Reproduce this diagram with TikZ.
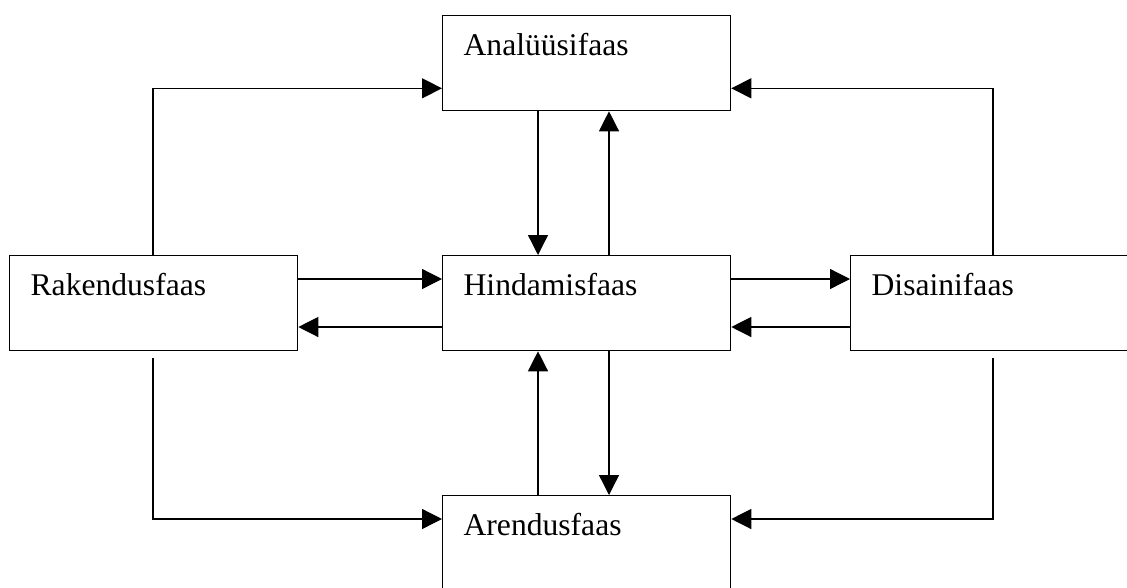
\documentclass[tikz,border=0pt]{standalone}
\usepackage{fontspec}
\setmainfont{Liberation Serif}
\usetikzlibrary{arrows.meta}
\begin{document}
\begin{tikzpicture}[x=1pt,y=-1pt,
  phase/.style={draw, line width=1.3pt, anchor=north west, align=left,
    inner xsep=21pt, inner ysep=0pt, text width=246pt,
    text height=40pt, text depth=55pt,
    font=\fontsize{31.6pt}{36pt}\selectfont},
  arr/.style={line width=1.3pt, -{Triangle[length=20pt,width=20pt]}}]
\useasboundingbox (0,0) rectangle (1127,587);
\clip (0,0) rectangle (1127,587);

% phase boxes
\node[phase] (ana)  at (442,15)  {Analüüsifaas};
\node[phase] (rak)  at (9,255)   {Rakendusfaas};
\node[phase] (hind) at (442,255) {Hindamisfaas};
\node[phase] (dis)  at (850,255) {Disainifaas};
\node[phase] (aren) at (442,495) {Arendusfaas};

% outer loops into the analysis phase
\draw[arr] ([xshift=144pt]rak.north west) |- ([yshift=23pt]ana.south west);
\draw[arr] ([xshift=143pt]dis.north west) |- ([yshift=23pt]ana.south east);

% outer loops into the development phase
\draw[arr] ([xshift=144pt,yshift=-7pt]rak.south west) |- ([yshift=-24pt]aren.north west);
\draw[arr] ([xshift=143pt,yshift=-7pt]dis.south west) |- ([yshift=-24pt]aren.north east);

% horizontal links around the evaluation phase
\draw[arr] ([yshift=-24pt]rak.north east) -- ([yshift=-24pt]hind.north west);
\draw[arr] ([yshift=-72pt]hind.north west) -- ([yshift=-72pt]rak.north east);
\draw[arr] ([yshift=-24pt]hind.north east) -- ([yshift=-24pt]dis.north west);
\draw[arr] ([yshift=-72pt]dis.north west) -- ([yshift=-72pt]hind.north east);

% vertical links around the evaluation phase
\draw[arr] ([xshift=96pt]ana.south west) -- ([xshift=96pt]hind.north west);
\draw[arr] ([xshift=167pt]hind.north west) -- ([xshift=167pt]ana.south west);
\draw[arr] ([xshift=96pt]aren.north west) -- ([xshift=96pt]hind.south west);
\draw[arr] ([xshift=167pt]hind.south west) -- ([xshift=167pt]aren.north west);
\end{tikzpicture}
\end{document}
